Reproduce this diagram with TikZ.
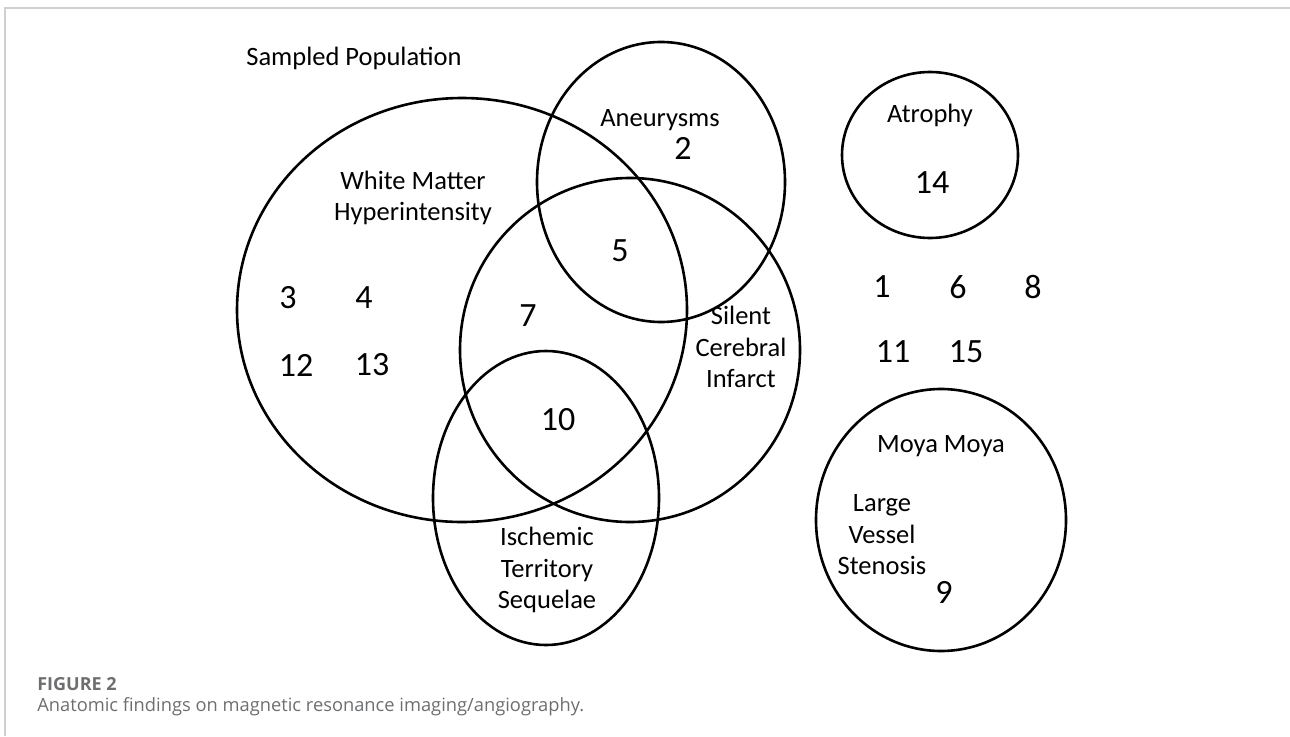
\documentclass[tikz,border=0pt]{standalone}
\usepackage{fontspec}
\setmainfont{Carlito}
\newfontfamily\capfont{Open Sans}
\usepackage{xcolor}
\definecolor{framegray}{HTML}{CFCFCF}
\definecolor{capgray}{HTML}{6D6E70}

\begin{document}
\begin{tikzpicture}[x=1pt, y=-1pt, line width=2.6pt,
	lbl/.style={font=\fontsize{26.5}{31.5}\selectfont, align=center, inner sep=0pt},
	num/.style={font=\fontsize{34}{36}\selectfont, inner sep=0pt},
	captxt/.style={anchor=west, inner sep=0pt, text=capgray, font=\capfont\fontsize{18.3}{22}\selectfont}]
\useasboundingbox (0,0) rectangle (1290,736);
%frame
\draw[framegray, line width=1.5pt] (5,736) -- (5,8) -- (1290,8);
%sets
\draw (462,310) ellipse (225 and 212);
\draw (661,182) ellipse (124 and 140);
\draw (630,350) ellipse (170 and 172);
\draw (546,498) ellipse (113 and 147);
\draw (930,155) ellipse (88 and 83);
\draw (941,520) ellipse (125 and 131);
%set names
\node[lbl] (pop) at (354,58) {Sampled Population};
\node[lbl] (aneu) at (660,120) {Aneurysms};
\node[lbl] (wmh) at (413,198) {White Matter\\Hyperintensity};
\node[lbl] (atro) at (930,115) {Atrophy};
\node[lbl] (sci) at (741,347) {Silent\\Cerebral\\Infarct};
\node[lbl] (isch) at (547,570) {Ischemic\\Territory\\Sequelae};
\node[lbl] (moya) at (941,446) {Moya Moya};
\node[lbl] (lvs) at (882,535) {Large\\Vessel\\Stenosis};
%patients
\foreach \n/\x/\y in {2/683/148, 5/620/251, 14/932/183, 1/882/287, 6/958/287, 8/1033/287,
	11/893/352, 15/966/352, 3/288/298, 4/364/298, 12/296/365, 13/372/365,
	7/528/316, 10/558/420, 9/944/592}{
	\node[num] (p\n) at (\x,\y) {\n};
	}
%caption
\node[captxt, font=\capfont\bfseries\fontsize{18}{22}\selectfont] (fig) at (36,684) {FIGURE 2};
\node[captxt] (cap) at (36,707) {Anatomic findings on magnetic resonance imaging/angiography.};
\end{tikzpicture}
\end{document}
